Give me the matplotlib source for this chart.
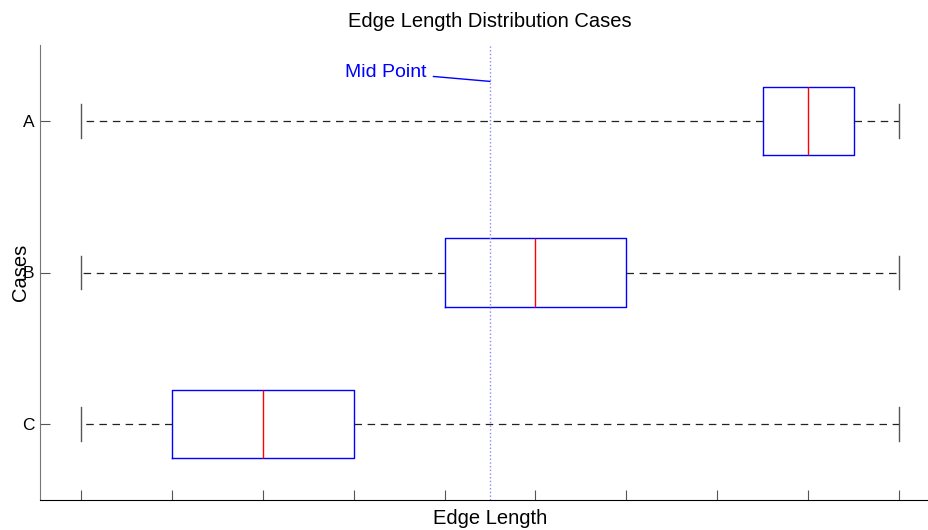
import matplotlib.pyplot as plt

plt.rcParams['font.family'] = ['Liberation Sans', 'DejaVu Sans']

# Summary values for each case (whisker low, quartiles, median, whisker high)
cases = ['A', 'B', 'C']
positions = [3, 2, 1]
whislo = [0, 0, 0]
q1 = [7.5, 4, 1]
med = [8, 5, 2]
q3 = [8.5, 6, 3]
whishi = [9, 9, 9]
mid_point = 4.5

stats = []
for i, name in enumerate(cases):
    stats.append(dict(label=name, whislo=whislo[i], q1=q1[i], med=med[i],
                      q3=q3[i], whishi=whishi[i], fliers=[]))

fig = plt.figure(figsize=(9.29, 5.30), dpi=100)
ax = fig.add_axes([40 / 929, 30 / 530, 900 / 929, 455 / 530])

ax.bxp(stats, positions=positions, vert=False, widths=0.45,
       boxprops=dict(color='blue', lw=1),
       medianprops=dict(color='red', lw=1),
       whiskerprops=dict(color='#222222', ls=(0, (6, 4.5)), lw=0.9),
       capprops=dict(color='#555555', lw=1),
       capwidths=0.22)

ax.axvline(mid_point, color='#8888ff', ls=':', lw=1)
ax.annotate('Mid Point', xy=(mid_point, 3.26), xytext=(3.8, 3.32),
            color='blue', fontsize=14, ha='right', va='center',
            arrowprops=dict(arrowstyle='-', color='blue', lw=1,
                            shrinkA=3, shrinkB=0))

ax.set_xlim(-0.45, 9.45)
ax.set_ylim(0.5, 3.5)
ax.set_xticks(range(10))
ax.set_xticklabels([])
ax.set_yticks(positions)
ax.set_yticklabels(cases, fontsize=12.5)
ax.tick_params(direction='in', length=7, color='#555555')
ax.tick_params(axis='y', pad=4)

for s in ['top', 'right']:
    ax.spines[s].set_visible(False)
ax.spines['left'].set_color('#777777')
ax.spines['bottom'].set_color('black')

ax.set_title('Edge Length Distribution Cases', fontsize=14.5, pad=13)
ax.set_xlabel('Edge Length', fontsize=14.5, labelpad=3)
ax.set_ylabel('Cases', fontsize=14.5, labelpad=-6)

fig.savefig('out.png', dpi=100)
